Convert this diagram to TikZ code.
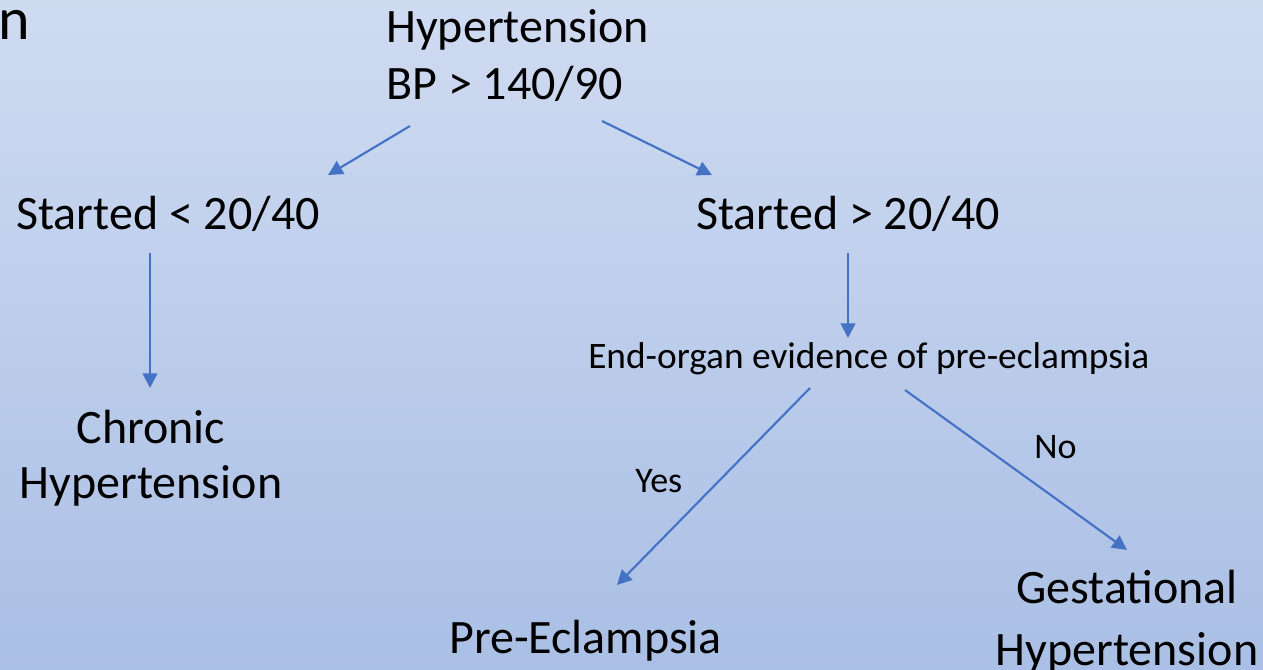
\documentclass[tikz,border=0pt]{standalone}
\usepackage{fontspec}
\setmainfont{Carlito}
\usetikzlibrary{arrows.meta}
\definecolor{bgtop}{HTML}{CFDBF1}
\definecolor{bgbot}{HTML}{AABFE5}
\definecolor{arrowblue}{HTML}{4472C4}
\begin{document}
\begin{tikzpicture}[x=0.75pt,y=-0.75pt,
  bigw/.style={font=\fontsize{36}{43}\selectfont, inner sep=0pt, anchor=base west},
  bigc/.style={font=\fontsize{36}{43}\selectfont, inner sep=0pt, anchor=base},
  smallw/.style={font=\fontsize{28}{33}\selectfont, inner sep=0pt, anchor=base west},
  lbl/.style={font=\fontsize{27}{32}\selectfont, inner sep=0pt, anchor=base west},
  titlefrag/.style={font=\fontsize{45}{54}\selectfont, inner sep=0pt, anchor=base west},
  arr/.style={draw=arrowblue, line width=1.6pt, -{Triangle[length=11pt,width=11pt]}}]
\fill[top color=bgtop, bottom color=bgbot] (0,0) rectangle (1263,670);
\useasboundingbox (0,0) rectangle (1263,670);

\node[titlefrag] (frag) at (-2,40) {n};
\node[bigw] (top1) at (386,43) {Hypertension};
\node[bigw] (top2) at (386,100) {BP > 140/90};
\node[bigw] (early) at (16,230) {Started < 20/40};
\node[bigw] (late) at (696,230) {Started > 20/40};
\node[smallw] (organ) at (588,368) {End-organ evidence of pre-eclampsia};
\node[bigc] (chr1) at (151,443) {Chronic};
\node[bigc] (chr2) at (151,498) {Hypertension};
\node[bigw] (pre) at (449,653) {Pre-Eclampsia};
\node[bigc] (ges1) at (1127,603) {Gestational};
\node[bigc] (ges2) at (1127,665) {Hypertension};
\node[lbl] (yes) at (635,492) {Yes};
\node[lbl] (no) at (1034,458) {No};

\coordinate (a1s) at (410,126);
\coordinate (a1e) at (328,175);
\coordinate (a2s) at (602,121);
\coordinate (a2e) at (712,175);
\coordinate (a3s) at (150,253);
\coordinate (a3e) at (150,388);
\coordinate (a4s) at (848,253);
\coordinate (a4e) at (848,338);
\coordinate (a5s) at (810,388);
\coordinate (a5e) at (617,585);
\coordinate (a6s) at (905,390);
\coordinate (a6e) at (1127,550);

\draw[arr] (a1s) -- (a1e);
\draw[arr] (a2s) -- (a2e);
\draw[arr] (a3s) -- (a3e);
\draw[arr] (a4s) -- (a4e);
\draw[arr] (a5s) -- (a5e);
\draw[arr] (a6s) -- (a6e);
\end{tikzpicture}
\end{document}
